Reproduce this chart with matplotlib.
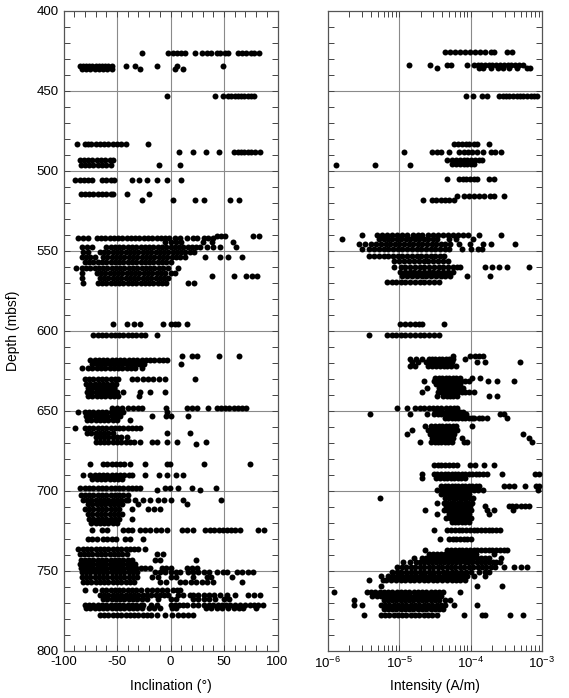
import numpy as np
import matplotlib.pyplot as plt
from matplotlib.ticker import MultipleLocator, LogLocator, NullFormatter

plt.rcParams['font.family'] = ['Liberation Sans', 'DejaVu Sans']
plt.rcParams['axes.unicode_minus'] = False

# === Data: (depth in mbsf, values at that depth) ===
# inclination in degrees
inc_rows = [
    (426.5, [-27, -2, 2, 6, 10, 14, 23, 29, 34, 38, 43, 46, 51, 54, 63, 67, 71, 75, 78, 83]),
    (434.5, [-85, -82, -79, -76, -73, -70, -67, -64, -61, -58, -55, -42, -33, -13, 6, 49]),
    (436.5, [-83, -79, -75, -71, -67, -63, -59, -55, -28.5, 4, 12]),
    (453.5, [-3.6, 41.6, 49, 54, 57, 60, 63, 66, 69, 72, 75, 78]),
    (483.5, [-87, -80, -77, -74, -70, -66, -62, -58, -54, -50, -46, -42, -21]),
    (488, [8, 20.7, 33, 45, 59, 63, 66, 69, 72, 75, 79, 83.6]),
    (493.5, [-85, -81, -77, -73, -69, -65, -61, -57, -54]),
    (496.5, [-84, -80, -76, -72, -68, -64, -60, -56, -10.7, 9]),
    (505.8, [-89, -85, -81, -77, -73, -64, -60, -56, -53, -36, -29, -22, -12.6, -3, 9.5]),
    (514.8, [-84, -80, -76, -72, -68, -64, -60, -56, -53.5, -41, -20]),
    (518, [-27, 2.4, 23, 31.4, 56, 64]),
    (540.5, [43, 47, 51, 77, 83]),
    (542.3, [-86, -81.5, -77, -69, -65, -61, -57, -53, -49, -45, -41, -37, -33, -29, -25,
             -21, -17, -13, -9, -5, -1, 4, 9, 15, 21, 25, 31, 35, 40]),
    (544.5, [-5, 0, 5, 10, 30, 38.5, 58.7]),
    (547.5, [-83, -78, -73, -60, -56, -52, -48, -44, -40, -36, -32, -28, -24, -20, -16, -12,
             -8, -4, 0, 4, 8, 12, 16, 20, 24, 28, 34, 40, 46, 61]),
    (550.5, [-82, -77, -66, -62, -58, -54, -50, -46, -42, -38, -34, -30, -26, -22, -18, -14,
             -10, -6, -2, 2, 6, 10, 14, 18, 22]),
    (553.7, [-83, -79, -75, -71, -63, -59, -55, -51, -47, -43, -39, -35, -31, -27, -23, -19,
             -15, -11, -7, -3, 1, 5, 9, 14, 32, 46, 54, 66.5]),
    (557.3, [-80, -76, -72, -68, -64, -60, -56, -52, -48, -44, -40, -36, -32, -28, -24, -20,
             -16, -12, -8, -4, 0]),
    (561, [-88, -83, -79, -75, -71, -67, -63, -59, -55, -51, -47, -43, -39, -35, -31, -27,
           -23, -19, -15, -11, -7, -2, 7]),
    (564, [-83, -69, -65, -61, -57, -53, -49, -45, -41, -37, -33, -29, -25, -21, -17, -13,
           -9, -5, 0, 4]),
    (566, [38.5, 59, 71, 76, 80.5]),
    (567, [-83, -66, -62, -58, -54, -50, -46, -42, -38, -34, -30, -26, -22, -18, -14, -10, -6, -2]),
    (570, [-82, -68, -64, -60, -56, -52, -48, -44, -40, -36, -32, -28, -24, -20, -16, -12,
           -8, -4, 16, 22]),
    (596, [-54, -40.7, -34, -28.5, -7.3, 0, 4, 7, 15]),
    (602.7, [-72, -68, -64, -60, -56, -52, -48, -44, -40, -36, -32, -28, -24, -13]),
    (615.6, [10.5, 20, 25, 45, 64]),
    (618, [-75, -71, -67, -63, -59, -55, -51, -47, -43, -39, -35, -31, -27, -23, -19, -15,
           -11, -7, -3.5]),
    (620.5, [-73, -69, -65, -61, -57, -53, -49, -45, -41, -37, -33, -29, -25, 10]),
    (623.5, [-83, -77, -73, -69, -65, -61, -57, -53, -49, -45, -41, -37, -33, -27]),
    (630.4, [-80, -76, -72, -68, -64, -60, -56, -52, -49, -36, -31, -26, -21, -16, -11, -5, 22.6]),
    (633, [-79, -75, -71, -67, -63, -59, -55, -51]),
    (635.5, [-77, -73, -69, -65, -61, -57, -53]),
    (638, [-78, -74, -70, -66, -62, -58, -54, -50, -44, -28.5, -19, -5]),
    (641, [-77, -73, -69, -65, -61, -57, -53, -49, -29.4]),
    (648, [-55, -50, -45, -40, -35, -30, -27, -4, 15, 20, 24.5, 34.7, 43, 47, 51, 55, 59, 63,
           66.5, 71]),
    (650.5, [-86.4, -80, -76, -72, -68, -64, -60, -56, -52, -48, -44, -3.6]),
    (653.5, [-79, -75, -71, -67, -63, -59, -55, -51, -47, -17.6, -4, 0, 16.7]),
    (655.5, [-78, -74, -70, -66, -62, -58, -54, -50, -38]),
    (661, [-89, -80, -76, -72, -68, -64, -60, -56, -52, -48, -44, -40, -36, -32, -28.5]),
    (663.8, [-78, -74, -70, -66, -62, -58, -54, -3.6, 18.2]),
    (666.2, [-70, -66, -62, -58, -54, -50, -46, -41]),
    (669.4, [-70, -66, -62, -58, -54, -50, -46, -42, -38, -34, -28.5, -17.6, -13, -3.6, 5.8, 33]),
    (670.5, [23.8]),
    (683.5, [-75, -63, -59, -55, -51, -47, -43, -38, -24, -3.6, -0.5, 31.4, 74.3]),
    (690.2, [-81.5, -75, -71, -67, -63, -59, -55, -51, -47, -43, -39, -36, -24, -10.7, -3.3, 5, 12]),
    (692.5, [-73, -69, -65, -61, -57, -53, -49, -45]),
    (698.5, [-84.6, -80, -76, -72, -68, -64, -60, -56, -52, -48, -44, -40, -36, -32, -28.5,
             -5, -0.5, 7, 20, 42.5]),
    (699.5, [-13, 28]),
    (702.5, [-84, -80, -76, -72, -68, -64, -60, -56, -52, -48, -44, -40]),
    (705.5, [-82, -78, -74, -70, -66, -62, -58, -54, -50, -46, -42, -25.7, -19, -12, -6, 0, 11.4]),
    (706, [-39.7, -33, 47]),
    (708.5, [-77, -73, -69, -65, -61, -57, -53, -49, -45, -30, 15]),
    (711.5, [-80, -76, -72, -68, -64, -60, -56, -52, -48, -36, -21, -15, -10]),
    (714.5, [-77, -73, -69, -65, -61, -57, -53, -49, -45]),
    (717.5, [-76, -72, -68, -64, -60, -56, -52, -48, -36]),
    (720, [-74, -70, -66, -62, -58, -54, -50]),
    (724.6, [-73.6, -64, -59.6, -44, -40, -36, -28.5, -24, -19, -14, -8.5, -3.6, 10.5, 15, 21.3,
             32, 37, 41, 45, 49, 53, 57, 60.5, 64.5, 82, 87]),
    (730.4, [-77, -73, -69, -63, -59, -55, -51, -42.5, -38, -26]),
    (736.5, [-86, -82, -78, -74, -70, -66, -62, -58, -54, -50, -46, -42, -38, -34, -30, -24]),
    (739.5, [-85, -81, -77, -73, -69, -65, -61, -57, -53, -49, -45, -41, -13, -7]),
    (743, [-84, -80, -76, -72, -68, -64, -60, -56, -52, -48, -44, -40, -36, -14.5, -10, 23.8]),
    (745.5, [-85, -81, -77, -73, -69, -65, -61, -57, -53, -49, -45, -41, -37, -33]),
    (748, [-84, -80, -76, -72, -68, -64, -60, -56, -52, -48, -44, -40, -36, -32, -28, -24, -19,
           -8, -4, 0, 15, 20, 25]),
    (750.6, [-83, -79, -75, -71, -67, -63, -59, -55, -51, -47, -43, -39, -35, -31, -14.5, -10,
             -5, 0, 5, 9, 16.7, 21, 26, 31, 36, 43, 49, 53, 62, 67, 72, 77]),
    (754, [-83, -79, -75, -71, -67, -63, -59, -55, -51, -47, -43, -39, -35, -31, -17, -12, 0, 5,
           21, 34, 38, 57.5]),
    (757, [-82, -78, -74, -70, -66, -62, -58, -54, -50, -46, -42, -38, -34, -10, -4, 9, 14, 19,
           24, 29, 34, 40, 66.5]),
    (762, [-80, -70.5, -64, -60, -56, -52, -48, -44, -40, -36, -32, -28, -22, -17.6, -13, -8,
           -3, 2, 6, 9]),
    (765.2, [-66, -62, -58, -54, -50, -46, -42, -38, -34, -30, -26, -22, -18, -14, -10, -6, -2,
             7, 12, 18, 21, 26, 31, 36, 41, 46, 52.5, 60, 72.7, 78, 83.6]),
    (767.5, [-63, -59, -55, -51, -47, -43, -39, -35, -31, -27, -22, -12, 0, 5, 21, 26, 31, 36,
             42, 50, 55]),
    (771.4, [-80, -76, -72, -68, -64, -60, -56, -52, -48, -44, -40, -36, -32, -28, -25.7, -18,
             -13, 0, 4, 8, 12, 15, 21, 26, 31, 36, 40, 44, 48, 52, 56, 60, 65, 69.6, 74, 78, 82, 86.4]),
    (773.5, [-79, -75, -71, -67, -63, -59, -55, -51, -47, -43, -39, -35, -31, -27, -20, -15, -10,
             1, 5, 33, 38, 43, 48, 54, 59, 64, 68, 80]),
    (777.7, [-66, -62, -58, -54, -50, -46, -42, -38, -34, -30, -26, -22, -18, -13, -5, 1.4, 7,
             11.7, 16, 21]),
]

# intensity in units of 1e-5 A/m
int_rows = [
    (425.6, [4.4, 5.2, 6.1, 7.2, 8.4, 9.9, 11.6, 13.7, 16, 19, 21, 32, 38]),
    (434, [1.35, 2.7, 4.6, 5.3, 8.9, 11, 12.5, 14, 16, 18, 20, 23, 26, 29, 33, 37, 42, 48, 55]),
    (436, [3.4, 13, 15, 19, 24, 28, 35, 45, 62, 67]),
    (453.5, [8.7, 10.8, 14.4, 17, 25, 28, 31, 35, 39, 44, 49, 55, 62, 70, 78, 85]),
    (483.5, [5.8, 6.6, 7.5, 8.5, 9.6, 11, 12.3, 17.8]),
    (488, [1.17, 2.9, 3.4, 3.8, 4.9, 6.8, 8, 9.2, 10.5, 12.3, 14.9, 19, 22, 27]),
    (493, [4.6, 5.4, 6.2, 7, 8, 9, 10.2, 11.5, 13, 14.4]),
    (496, [5.5, 6.3, 7.1, 8, 9, 10, 11.3]),
    (496.5, [0.13, 0.45, 1.4]),
    (505.4, [4.7, 6.8, 7.7, 8.7, 9.8, 11, 12.3, 18, 21]),
    (516, [6.4, 8, 9.5, 11, 13, 15.5, 18.5, 21, 29]),
    (518, [2.15, 2.9, 3.3, 3.8, 4.4, 5, 5.8]),
    (540, [0.3, 0.49, 0.57, 0.67, 0.79, 0.93, 1.1, 1.3, 1.53, 1.8, 2.1, 2.5, 2.95, 3.5, 4.1,
           4.8, 5.7, 6.7, 7.9, 9.3, 12.9, 26.5]),
    (542.5, [0.157, 0.52, 0.6, 0.7, 0.8, 0.93, 1.07, 1.24, 1.43, 1.65, 1.9, 2.2, 2.55, 2.95,
             3.4, 4.9, 6.2, 10.8]),
    (546, [0.27, 0.33, 0.4, 0.47, 0.55, 0.64, 0.74, 0.86, 1, 1.16, 1.35, 1.57, 1.82, 2.1, 2.45,
           2.85, 3.3, 3.8, 4.4, 5.1, 6.8, 9.9, 15, 19.5, 42]),
    (549, [0.3, 0.37, 0.44, 0.52, 0.6, 0.7, 0.82, 0.95, 1.1, 1.28, 1.5, 1.75, 2, 2.35, 2.75,
           3.2, 3.7, 4.3, 5, 7.6, 10, 12.5, 14.5]),
    (553, [0.37, 0.44, 0.52, 0.6, 0.7, 0.82, 0.95, 1.1, 1.28, 1.5, 1.75, 2, 2.35, 2.75, 3.2,
           3.7, 4.2]),
    (556.5, [0.85, 1, 1.17, 1.37, 1.6, 1.87, 2.2, 2.55, 3, 3.5, 4.1, 4.8]),
    (560, [0.83, 1.05, 1.22, 1.42, 1.66, 1.93, 2.25, 2.6, 3.05, 3.55, 4.15, 4.85, 5.6, 6.4,
           7.2, 16, 20, 25, 32, 65]),
    (563, [1.03, 1.2, 1.4, 1.63, 1.9, 2.2, 2.6, 3, 3.5, 4.1, 4.8, 5.6]),
    (565.5, [1.1, 1.3, 1.5, 1.75, 2.05, 2.4, 2.8, 3.25, 3.8, 4.4, 5.1, 8.9, 18.5]),
    (569.4, [0.67, 0.8, 0.9, 1.05, 1.22, 1.42, 1.66, 1.93, 2.25, 2.6, 3.05, 3.6]),
    (596, [1.03, 1.2, 1.4, 1.65, 1.9, 2.1, 4.2]),
    (602.7, [0.38, 0.67, 0.78, 0.9, 1.05, 1.22, 1.42, 1.66, 1.93, 2.25, 2.6, 3.05, 3.55]),
    (615.5, [5.6, 9.9, 11.5, 13, 15]),
    (617.5, [1.43, 1.7, 2.1, 2.6, 2.9, 3.2, 3.6, 4, 4.5, 5, 5.6, 8.3]),
    (619.5, [1.5, 1.8, 2.4, 2.7, 3, 3.4, 3.8, 4.3, 4.8, 5.4, 12.3, 16, 48.5]),
    (622, [1.43, 1.65, 2.5, 2.9, 3.3, 3.7, 4.2, 4.7, 5.3, 6.2]),
    (629.5, [3.2, 3.6, 4, 4.5, 5, 5.6, 6.2, 7, 10.5, 13.6]),
    (631.5, [2.2, 3.05, 3.4, 3.8, 4.25, 4.75, 5.3, 5.9, 6.6, 7.4, 8.3, 9.4, 17.3, 23.4, 40]),
    (633, [3.3, 3.7, 4.1, 4.6, 5.1, 5.7, 6.4, 7.2]),
    (636, [2.45, 3.6, 4, 4.5, 5, 5.6, 6.2, 7, 7.8]),
    (638, [2.08, 3.5, 3.9, 4.35, 4.85, 5.4, 6, 6.7, 7.5, 8.4, 9.4, 11]),
    (640.5, [3.4, 4.1, 4.6, 5.1, 5.7, 6.4, 18, 23.4]),
    (648.3, [0.93, 1.28, 1.68, 1.95, 2.25, 2.6, 3, 3.4, 3.9, 4.5, 5.1, 5.8, 6.4]),
    (650.5, [3.2, 3.6, 4, 4.5, 5, 5.6, 6.3, 7, 7.8]),
    (652, [0.39, 1.43, 2.45, 3.05, 3.5, 3.9, 4.4, 4.9, 5.5, 6.1, 6.9, 7.7, 8.6, 26, 29]),
    (654.5, [4.3, 4.8, 5.4, 6, 6.7, 7.5, 8.4, 9.4, 10.5, 11, 12.9, 14.5, 17, 32]),
    (659.5, [2.3, 2.8, 3.2, 3.6, 4, 4.5, 5, 5.6, 6.2, 10.5]),
    (662, [1.5, 2.5, 2.9, 3.25, 3.65, 4.1, 4.6, 5.1, 5.7, 6.4]),
    (664.5, [1.28, 2.7, 3.05, 3.4, 3.8, 4.25, 4.75, 5.3, 5.9, 55]),
    (667, [2.9, 3.25, 3.65, 4.1, 4.6, 5.1, 5.7, 7.6, 65]),
    (669.5, [1.97, 2.8, 3.15, 3.5, 3.9, 4.35, 4.85, 5.4, 8.1, 8.9, 72]),
    (683.7, [3.05, 3.45, 3.9, 4.4, 5, 5.6, 6.4, 9.9, 11.6, 15.6, 21]),
    (689.5, [2.08, 3.05, 3.4, 3.8, 4.3, 4.8, 5.4, 6, 6.7, 7.5, 8.4, 9.4, 10.5, 11.8, 13.2,
             14.8, 17, 27.5, 81, 92]),
    (692, [2.08, 3.3, 3.7, 4.2, 4.7, 5.3, 5.9, 6.6, 7.4, 8.3]),
    (697, [3.8, 4.3, 4.8, 5.4, 6, 6.7, 7.5, 8.4, 9.4, 10.5, 11.8, 13.2, 29, 34, 40, 58, 82, 90]),
    (699.5, [3.4, 4, 4.5, 5, 5.6, 6.3, 7, 7.9, 8.8, 9.8, 11, 12.5, 15, 88]),
    (702, [3.9, 4.4, 4.9, 5.5, 6.1, 6.8, 7.6, 8.5, 9.5]),
    (704.8, [0.54, 4.4, 5, 5.6, 6.3, 7, 7.8, 8.7, 9.7, 10.8]),
    (707.5, [3.4, 4.2, 4.7, 5.3, 5.9, 6.6, 7.4, 8.2, 9.2, 10.3]),
    (709.5, [4.5, 5, 5.6, 6.2, 7, 7.8, 8.7, 9.7, 16, 34, 38, 43, 50, 57, 65]),
    (712, [2.26, 4.2, 4.7, 5.2, 5.8, 6.5, 7.3, 8.1, 9, 10.1, 17, 21, 39]),
    (714.5, [3.4, 4.9, 5.5, 6.1, 6.8, 7.6, 8.5, 9.5, 18]),
    (717, [4.5, 5.1, 5.7, 6.4, 7.1, 8, 8.9, 10]),
    (719.5, [5.4, 6, 6.7, 7.5, 8.4, 9.4]),
    (724.6, [3.05, 4.7, 5.3, 6, 6.8, 7.6, 8.6, 9.7, 11, 12.4, 14, 15.8, 17.8, 20, 22.6, 25.5]),
    (730, [3.76, 4.9, 5.6, 6.3, 7.1, 8, 9, 10]),
    (737, [2.3, 4.7, 5.3, 6, 6.8, 7.6, 8.6, 9.7, 11, 12.4, 14, 15.8, 17.8, 20, 22.6, 25.5, 29, 32]),
    (739.5, [2.6, 3, 3.4, 3.9, 4.4, 5, 5.6, 6.4, 7.2, 8.1, 9.2, 10.4, 12, 21]),
    (742, [1.59, 2.1, 2.4, 2.75, 3.1, 3.5, 4, 4.5, 5.1, 5.8, 6.6, 7.5, 8.5, 9.6, 10.9, 12.4,
           14, 16, 18, 27]),
    (744.5, [1.14, 1.43, 1.7, 1.95, 2.2, 2.5, 2.85, 3.25, 3.7, 4.2, 4.8, 5.5, 6.3, 7.2, 8.2,
             9.3, 10.6, 12.1, 13.8, 15.7, 17.9, 20.4, 23, 26]),
    (747.5, [0.93, 1.08, 1.25, 1.45, 1.68, 1.95, 2.25, 2.6, 3, 3.45, 4, 4.6, 5.3, 6.1, 7, 8.1,
             9.4, 10.8, 12.5, 14.4, 16.6, 19, 22, 29, 40, 50, 62]),
    (750.6, [0.79, 0.92, 1.07, 1.24, 1.44, 1.67, 1.94, 2.25, 2.6, 3, 3.5, 4.05, 4.7, 5.4, 6.3,
             7.3, 8.5, 10, 13, 16, 18]),
    (753, [0.55, 0.7, 0.82, 0.95, 1.1, 1.28, 1.48, 1.72, 2, 2.3, 2.7, 3.1, 3.6, 4.2, 4.9, 5.7,
           6.6, 7.7, 9, 11, 16]),
    (755.5, [0.38, 0.59, 0.66, 0.77, 0.9, 1.04, 1.2, 1.4, 1.62, 1.88, 2.2, 2.55, 2.95, 3.4, 4,
             4.6, 5.4, 6.2, 7.2, 8.4]),
    (759.5, [0.56, 12.3, 27.5]),
    (763, [0.12, 0.35, 0.4, 0.46, 0.53, 0.61, 0.7, 0.8, 0.92, 1.05, 1.2, 1.38, 1.58, 1.82, 2.1,
           2.4, 2.75, 3.15, 3.6, 4.15, 7.2]),
    (766, [0.42, 0.48, 0.55, 0.63, 0.72, 0.83, 0.95, 1.09, 1.25, 1.43, 1.65, 1.9, 2.2, 2.5,
           2.9, 3.3, 3.8]),
    (768.5, [0.23, 0.6, 0.69, 0.79, 0.9, 1.04, 1.19, 1.37, 1.57, 1.8, 2.07, 2.4, 2.75, 3.15,
             3.6, 4.3, 5.2]),
    (771.5, [0.23, 0.3, 0.55, 0.63, 0.72, 0.83, 0.95, 1.1, 1.26, 1.45, 1.66, 1.9, 2.2, 2.5,
             2.9, 3.35, 3.85, 4.4, 5.8, 12.3]),
    (774, [0.6, 0.69, 0.79, 0.9, 1.04, 1.19, 1.37, 1.57, 1.8, 2.07, 2.4, 2.75, 3.15, 3.6, 4.1]),
    (777.5, [0.32, 0.55, 0.63, 0.72, 0.83, 0.95, 1.1, 1.26, 1.45, 1.66, 1.9, 2.2, 2.5, 2.9,
             3.35, 8, 14.5, 16, 36, 54]),
]


def flatten(rows):
    d, v = [], []
    for depth, vals in rows:
        d.extend([depth] * len(vals))
        v.extend(vals)
    return np.array(d), np.array(v, dtype=float)


inc_depth, inc_val = flatten(inc_rows)
int_depth, int_val = flatten(int_rows)
int_val = int_val * 1e-5  # to A/m

# === Figure ===
fig = plt.figure(figsize=(5.69, 6.98), dpi=100)
ax1 = fig.add_axes([63.5 / 569, 47.3 / 698, 214 / 569, 640 / 698])
ax2 = fig.add_axes([328 / 569, 47.3 / 698, 214 / 569, 640 / 698])

grid_kw = dict(color='#8a8a8a', linewidth=0.8)
ms = 4.3

# Inclination panel
for x in (-50, 0, 50):
    ax1.axvline(x, zorder=1, **grid_kw)
for y in range(450, 800, 50):
    ax1.axhline(y, zorder=1, **grid_kw)
ax1.plot(inc_val, inc_depth, 'o', color='black', ms=ms, mec='none', zorder=3)
ax1.set_xlim(-100, 100)
ax1.set_ylim(800, 400)
ax1.xaxis.set_major_locator(MultipleLocator(50))
ax1.xaxis.set_minor_locator(MultipleLocator(10))
ax1.set_xlabel('Inclination (°)', fontsize=10, labelpad=8)
ax1.set_ylabel('Depth (mbsf)', fontsize=10, labelpad=12)

# Intensity panel
ax2.set_xscale('log')
for x in (1e-5, 1e-4):
    ax2.axvline(x, zorder=1, **grid_kw)
for y in range(450, 800, 50):
    ax2.axhline(y, zorder=1, **grid_kw)
ax2.plot(int_val, int_depth, 'o', color='black', ms=ms, mec='none', zorder=3)
ax2.set_xlim(1e-6, 1e-3)
ax2.set_ylim(800, 400)
ax2.xaxis.set_major_locator(LogLocator(base=10, numticks=10))
ax2.xaxis.set_minor_locator(LogLocator(base=10, subs=np.arange(2, 10), numticks=20))
ax2.xaxis.set_minor_formatter(NullFormatter())
ax2.set_xlabel('Intensity (A/m)', fontsize=10, labelpad=6)

for ax in (ax1, ax2):
    ax.yaxis.set_major_locator(MultipleLocator(50))
    ax.yaxis.set_minor_locator(MultipleLocator(10))
    ax.tick_params(which='both', direction='in', top=True, right=True,
                   length=4, width=0.7, color='#444444', labelsize=9.5)
    for s in ax.spines.values():
        s.set_color('#555555')
        s.set_linewidth(0.9)
ax2.tick_params(axis='y', labelleft=False)

plt.savefig('out.png', dpi=100)
